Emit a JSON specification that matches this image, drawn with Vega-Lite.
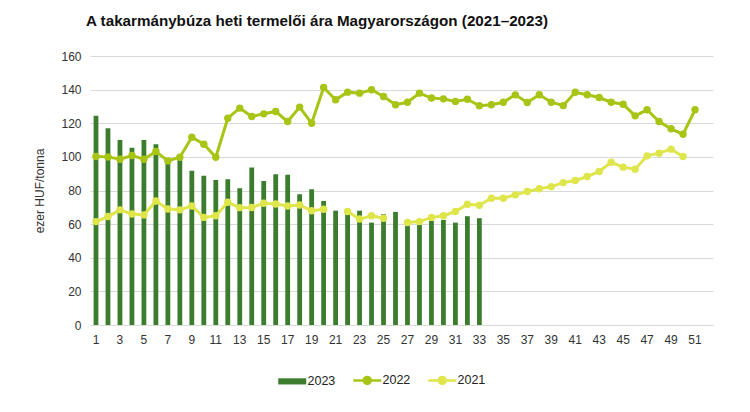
{
  "$schema": "https://vega.github.io/schema/vega-lite/v6.json",
  "width": 623,
  "height": 269,
  "autosize": "none",
  "padding": {"left": 90, "top": 56, "right": 37, "bottom": 87},
  "background": "white",
  "config": {
    "font": "Liberation Sans",
    "view": {"stroke": null}
  },
  "title": {
    "text": "A takarmánybúza heti termelői ára Magyarországon (2021–2023)",
    "anchor": "start",
    "frame": "group",
    "dx": -4,
    "offset": 21,
    "fontSize": 15.2,
    "fontWeight": "bold",
    "color": "#111111",
    "font": "Liberation Sans"
  },
  "datasets": {
    "y2023": [
      {"week": 1, "series": "2023", "value": 124.5},
      {"week": 2, "series": "2023", "value": 117},
      {"week": 3, "series": "2023", "value": 110},
      {"week": 4, "series": "2023", "value": 105.5},
      {"week": 5, "series": "2023", "value": 110},
      {"week": 6, "series": "2023", "value": 107.5},
      {"week": 7, "series": "2023", "value": 97},
      {"week": 8, "series": "2023", "value": 99.5},
      {"week": 9, "series": "2023", "value": 91.8},
      {"week": 10, "series": "2023", "value": 88.8},
      {"week": 11, "series": "2023", "value": 86.3},
      {"week": 12, "series": "2023", "value": 86.7},
      {"week": 13, "series": "2023", "value": 81.3},
      {"week": 14, "series": "2023", "value": 93.7},
      {"week": 15, "series": "2023", "value": 85.7},
      {"week": 16, "series": "2023", "value": 89.7},
      {"week": 17, "series": "2023", "value": 89.3},
      {"week": 18, "series": "2023", "value": 77.8},
      {"week": 19, "series": "2023", "value": 80.8},
      {"week": 20, "series": "2023", "value": 73.8},
      {"week": 21, "series": "2023", "value": 68},
      {"week": 22, "series": "2023", "value": 66},
      {"week": 23, "series": "2023", "value": 68},
      {"week": 24, "series": "2023", "value": 60.9},
      {"week": 25, "series": "2023", "value": 65.9},
      {"week": 26, "series": "2023", "value": 67.3},
      {"week": 27, "series": "2023", "value": 59.5},
      {"week": 28, "series": "2023", "value": 59.5},
      {"week": 29, "series": "2023", "value": 62},
      {"week": 30, "series": "2023", "value": 62.5},
      {"week": 31, "series": "2023", "value": 60.9},
      {"week": 32, "series": "2023", "value": 64.7},
      {"week": 33, "series": "2023", "value": 63.5}
    ],
    "lines": [
      {"week": 1, "series": "2022", "value": 100.2},
      {"week": 2, "series": "2022", "value": 100},
      {"week": 3, "series": "2022", "value": 98.6},
      {"week": 4, "series": "2022", "value": 100.8},
      {"week": 5, "series": "2022", "value": 98.6},
      {"week": 6, "series": "2022", "value": 103.2},
      {"week": 7, "series": "2022", "value": 97.6},
      {"week": 8, "series": "2022", "value": 99.8},
      {"week": 9, "series": "2022", "value": 111.7},
      {"week": 10, "series": "2022", "value": 107.5},
      {"week": 11, "series": "2022", "value": 99.8},
      {"week": 12, "series": "2022", "value": 123},
      {"week": 13, "series": "2022", "value": 129},
      {"week": 14, "series": "2022", "value": 124},
      {"week": 15, "series": "2022", "value": 125.6},
      {"week": 16, "series": "2022", "value": 127},
      {"week": 17, "series": "2022", "value": 121},
      {"week": 18, "series": "2022", "value": 129.6},
      {"week": 19, "series": "2022", "value": 120},
      {"week": 20, "series": "2022", "value": 141.3},
      {"week": 21, "series": "2022", "value": 134},
      {"week": 22, "series": "2022", "value": 138.5},
      {"week": 23, "series": "2022", "value": 137.9},
      {"week": 24, "series": "2022", "value": 139.9},
      {"week": 25, "series": "2022", "value": 135.9},
      {"week": 26, "series": "2022", "value": 131},
      {"week": 27, "series": "2022", "value": 132.5},
      {"week": 28, "series": "2022", "value": 137.9},
      {"week": 29, "series": "2022", "value": 135},
      {"week": 30, "series": "2022", "value": 134.5},
      {"week": 31, "series": "2022", "value": 133},
      {"week": 32, "series": "2022", "value": 134.3},
      {"week": 33, "series": "2022", "value": 130.4},
      {"week": 34, "series": "2022", "value": 131},
      {"week": 35, "series": "2022", "value": 132.5},
      {"week": 36, "series": "2022", "value": 136.9},
      {"week": 37, "series": "2022", "value": 132.3},
      {"week": 38, "series": "2022", "value": 137},
      {"week": 39, "series": "2022", "value": 132.5},
      {"week": 40, "series": "2022", "value": 130.5},
      {"week": 41, "series": "2022", "value": 138.4},
      {"week": 42, "series": "2022", "value": 137},
      {"week": 43, "series": "2022", "value": 135.3},
      {"week": 44, "series": "2022", "value": 132.5},
      {"week": 45, "series": "2022", "value": 131.3},
      {"week": 46, "series": "2022", "value": 124.4},
      {"week": 47, "series": "2022", "value": 128},
      {"week": 48, "series": "2022", "value": 121},
      {"week": 49, "series": "2022", "value": 116.7},
      {"week": 50, "series": "2022", "value": 113.5},
      {"week": 51, "series": "2022", "value": 128},
      {"week": 1, "series": "2021", "value": 61.5},
      {"week": 2, "series": "2021", "value": 64.5},
      {"week": 3, "series": "2021", "value": 68.5},
      {"week": 4, "series": "2021", "value": 66},
      {"week": 5, "series": "2021", "value": 65.5},
      {"week": 6, "series": "2021", "value": 73.8},
      {"week": 7, "series": "2021", "value": 69},
      {"week": 8, "series": "2021", "value": 68.5},
      {"week": 9, "series": "2021", "value": 70.8},
      {"week": 10, "series": "2021", "value": 64},
      {"week": 11, "series": "2021", "value": 65},
      {"week": 12, "series": "2021", "value": 73},
      {"week": 13, "series": "2021", "value": 69.8},
      {"week": 14, "series": "2021", "value": 69.9},
      {"week": 15, "series": "2021", "value": 72.4},
      {"week": 16, "series": "2021", "value": 72},
      {"week": 17, "series": "2021", "value": 70.8},
      {"week": 18, "series": "2021", "value": 71.4},
      {"week": 19, "series": "2021", "value": 68},
      {"week": 20, "series": "2021", "value": 68.8},
      {"week": 21, "series": "2021", "value": null},
      {"week": 22, "series": "2021", "value": 67.5},
      {"week": 23, "series": "2021", "value": 63},
      {"week": 24, "series": "2021", "value": 65},
      {"week": 25, "series": "2021", "value": 63.5},
      {"week": 26, "series": "2021", "value": null},
      {"week": 27, "series": "2021", "value": 61},
      {"week": 28, "series": "2021", "value": 61.5},
      {"week": 29, "series": "2021", "value": 64},
      {"week": 30, "series": "2021", "value": 65},
      {"week": 31, "series": "2021", "value": 67.5},
      {"week": 32, "series": "2021", "value": 71.8},
      {"week": 33, "series": "2021", "value": 71.2},
      {"week": 34, "series": "2021", "value": 75.4},
      {"week": 35, "series": "2021", "value": 75.4},
      {"week": 36, "series": "2021", "value": 77.4},
      {"week": 37, "series": "2021", "value": 79.4},
      {"week": 38, "series": "2021", "value": 81},
      {"week": 39, "series": "2021", "value": 82.3},
      {"week": 40, "series": "2021", "value": 84.7},
      {"week": 41, "series": "2021", "value": 85.9},
      {"week": 42, "series": "2021", "value": 88.3},
      {"week": 43, "series": "2021", "value": 91.3},
      {"week": 44, "series": "2021", "value": 96.8},
      {"week": 45, "series": "2021", "value": 93.9},
      {"week": 46, "series": "2021", "value": 92.7},
      {"week": 47, "series": "2021", "value": 100.6},
      {"week": 48, "series": "2021", "value": 102.2},
      {"week": 49, "series": "2021", "value": 104.6},
      {"week": 50, "series": "2021", "value": 100.2}
    ]
  },
  "encoding": {
    "x": {
      "field": "week",
      "type": "ordinal",
      "scale": {
        "domain": [1,2,3,4,5,6,7,8,9,10,11,12,13,14,15,16,17,18,19,20,21,22,23,24,25,26,27,28,29,30,31,32,33,34,35,36,37,38,39,40,41,42,43,44,45,46,47,48,49,50,51,52],
        "paddingInner": 0,
        "paddingOuter": 0
      },
      "axis": {
        "title": null,
        "values": [1,3,5,7,9,11,13,15,17,19,21,23,25,27,29,31,33,35,37,39,41,43,45,47,49,51],
        "labelAngle": 0,
        "labelFontSize": 12,
        "labelColor": "#333333",
        "labelPadding": 9,
        "ticks": false,
        "domain": true,
        "domainColor": "#d9d9d9",
        "domainWidth": 1,
        "grid": false
      }
    },
    "y": {
      "field": "value",
      "type": "quantitative",
      "scale": {"domain": [0, 160], "nice": false},
      "axis": {
        "title": "ezer HUF/tonna",
        "titleFontSize": 12,
        "titleFontWeight": "normal",
        "titleColor": "#333333",
        "titlePadding": 14,
        "values": [0,20,40,60,80,100,120,140,160],
        "labelFontSize": 12,
        "labelColor": "#333333",
        "labelPadding": 9,
        "ticks": false,
        "domain": false,
        "grid": true,
        "gridColor": "#d9d9d9",
        "gridWidth": 1
      }
    },
    "color": {
      "field": "series",
      "type": "nominal",
      "scale": {
        "domain": ["2023", "2022", "2021"],
        "range": ["#3b7d2d", "#a8c415", "#dfe64c"]
      },
      "legend": {
        "title": null,
        "orient": "none",
        "direction": "horizontal",
        "legendX": 196,
        "legendY": 318,
        "labelFontSize": 12.5,
        "labelColor": "#222222",
        "labelOffset": 9,
        "columnPadding": 12,
        "symbolSize": 784,
        "symbolStrokeWidth": 2.5,
        "encode": {
          "symbols": {
            "update": {
              "shape": {"signal": "datum.value === '2023' ? 'M-1,-0.22H1V0.22H-1Z' : 'M-1,0H1M-0.25,0A0.25,0.25 0 1,0 0.25,0A0.25,0.25 0 1,0 -0.25,0Z'"},
              "fill": {"scale": "color", "field": "value"},
              "stroke": {"scale": "color", "field": "value"},
              "strokeWidth": {"signal": "datum.value === '2023' ? 0 : 2.5"},
              "opacity": {"value": 1},
              "fillOpacity": {"value": 1}
            }
          }
        }
      }
    }
  },
  "layer": [
    {
      "data": {"name": "y2023"},
      "mark": {"type": "bar", "width": {"band": 0.4}},
      "encoding": {}
    },
    {
      "data": {"name": "lines"},
      "mark": {
        "type": "line",
        "strokeWidth": 3,
        "point": {"filled": true, "size": 55}
      },
      "encoding": {}
    }
  ]
}
